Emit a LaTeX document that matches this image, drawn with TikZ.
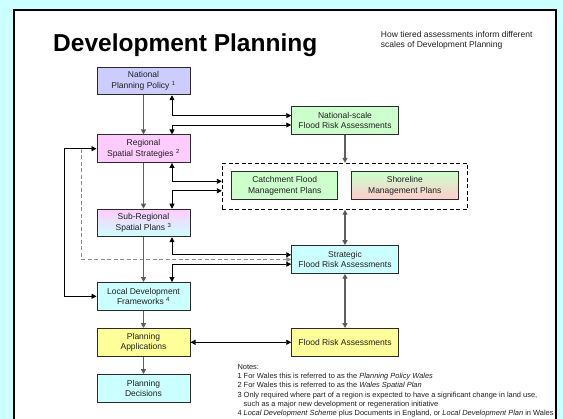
\documentclass[tikz,border=0pt]{standalone}
\usepackage{fontspec}
\setmainfont{Liberation Sans}
\usetikzlibrary{arrows.meta, positioning}

\definecolor{bgcyan}{HTML}{CCFFFF}
\definecolor{lavender}{HTML}{CCCCFF}
\definecolor{pinkbox}{HTML}{FFCCFF}
\definecolor{greenbox}{HTML}{CCFFCC}
\definecolor{rosebox}{HTML}{FFCCCC}
\definecolor{yellowbox}{HTML}{FFFF99}
\definecolor{cyanbox}{HTML}{CCFFFF}
\definecolor{boxline}{HTML}{2A2A2A}
\definecolor{boxtext}{HTML}{1F1F1F}
\definecolor{trunkgrey}{HTML}{606060}
\definecolor{dashgrey}{HTML}{8C8C8C}

\begin{document}
\begin{tikzpicture}[x=1pt, y=-1pt, node distance=46pt, on grid,
  >={Triangle[length=5pt,width=5pt]},
  box/.style={draw=boxline, line width=1pt, text=boxtext, align=center,
    font=\fontsize{8.5}{10.5}\selectfont, minimum width=93pt,
    minimum height=27.5pt, inner sep=1pt},
  wide/.style={box, minimum width=106.5pt},
  link/.style={draw=black, line width=0.85pt},
  trunk/.style={draw=trunkgrey, line width=1.3pt},
  dashlink/.style={draw=dashgrey, line width=0.85pt, dash pattern=on 4pt off 2.5pt}]
  \useasboundingbox (0,0) rectangle (563,419);
  \fill[bgcyan] (0,0) rectangle (563,419);
  \draw[line width=2pt, fill=white] (14,10) rectangle (556,440);

  \node[anchor=base west, inner sep=0, font=\fontsize{24.5}{28}\bfseries\selectfont] (title) at (53,51.7) {Development Planning};
  \node[anchor=north west, inner sep=0, align=left, text=boxtext, font=\fontsize{8.5}{10}\selectfont] (subtitle) at (380.7,30.8)
    {How tiered assessments inform different\\scales of Development Planning};

  \node[box, fill=lavender] (natpol) at (143.5,81) {National\\Planning Policy \textsuperscript{1}};
  \node[box, fill=pinkbox] (regional) at (143.5,148.7) {Regional\\Spatial Strategies \textsuperscript{2}};
  \node[box, top color=pinkbox, bottom color=cyanbox] (subreg) at (143.5,223) {Sub-Regional\\Spatial Plans \textsuperscript{3}};
  \node[box, fill=cyanbox] (localdev) at (143.5,296.3) {Local Development\\Frameworks \textsuperscript{4}};
  \node[box, fill=yellowbox, below=of localdev] (planapps) {Planning\\Applications};
  \node[box, fill=cyanbox, below=of planapps] (plandec) {Planning\\Decisions};

  \node[wide, fill=greenbox] (natfra) at (345,120.5) {National-scale\\Flood Risk Assessments};
  \node[wide, fill=greenbox] (catchment) at (284.7,185.7) {Catchment Flood\\Management Plans};
  \node[wide, top color=greenbox, bottom color=rosebox] (shoreline) at (404.8,185.7) {Shoreline\\Management Plans};
  \node[draw, line width=0.85pt, dash pattern=on 4pt off 2.5pt, minimum width=245.4pt, minimum height=46pt] (group) at (345,186.3) {};
  \node[wide, fill=cyanbox] (strategic) at (345,259.5) {Strategic\\Flood Risk Assessments};
  \node[wide, fill=yellowbox] (fra) at (345,342.3) {Flood Risk Assessments};

  \node[anchor=north west, inner sep=0, align=left, text=boxtext, font=\fontsize{7.45}{9.2}\selectfont] (notes) at (237.3,364.2)
    {Notes:\\
     1 For Wales this is referred to as the \textit{Planning Policy Wales}\\
     2 For Wales this is referred to as the \textit{Wales Spatial Plan}\\
     3 Only required where part of a region is expected to have a significant change in land use,\\
     \phantom{3 }such as a major new development or regeneration initiative\\
     4 \textit{Local Development Scheme} plus Documents in England, or \textit{Local Development Plan} in Wales};

  \draw[dashlink, ->] ([xshift=-15pt]regional.west) |- (strategic.west);
  \draw[link, <->] (regional.west) -- ++(-31.7,0) |- (localdev.west);

  \path[trunk, ->]
    (natpol) edge (regional)
    (regional) edge (subreg)
    (subreg) edge (localdev)
    (localdev) edge (planapps)
    (planapps) edge (plandec)
    (natfra) edge (group);
  \path[trunk, <->]
    (group) edge (strategic)
    (strategic) edge (fra);
  \path[link, <->] (planapps) edge (fra);

  \draw[link, <->] ([xshift=28.5pt]natpol.south) |- ([yshift=4.9pt]natfra.west);
  \draw[link, <->] ([yshift=-4.5pt]natfra.west) -| ([xshift=28.5pt]regional.north);
  \draw[link, <->] ([xshift=28.5pt]regional.south) |- ([yshift=5pt]group.west);
  \draw[link, <->] ([yshift=-4.5pt]group.west) -| ([xshift=28.5pt]subreg.north);
  \draw[link, <->] ([xshift=28.5pt]subreg.south) |- ([yshift=4.7pt]strategic.west);
  \draw[link, <->] ([yshift=-4.7pt]strategic.west) -| ([xshift=28.5pt]localdev.north);
\end{tikzpicture}
\end{document}
